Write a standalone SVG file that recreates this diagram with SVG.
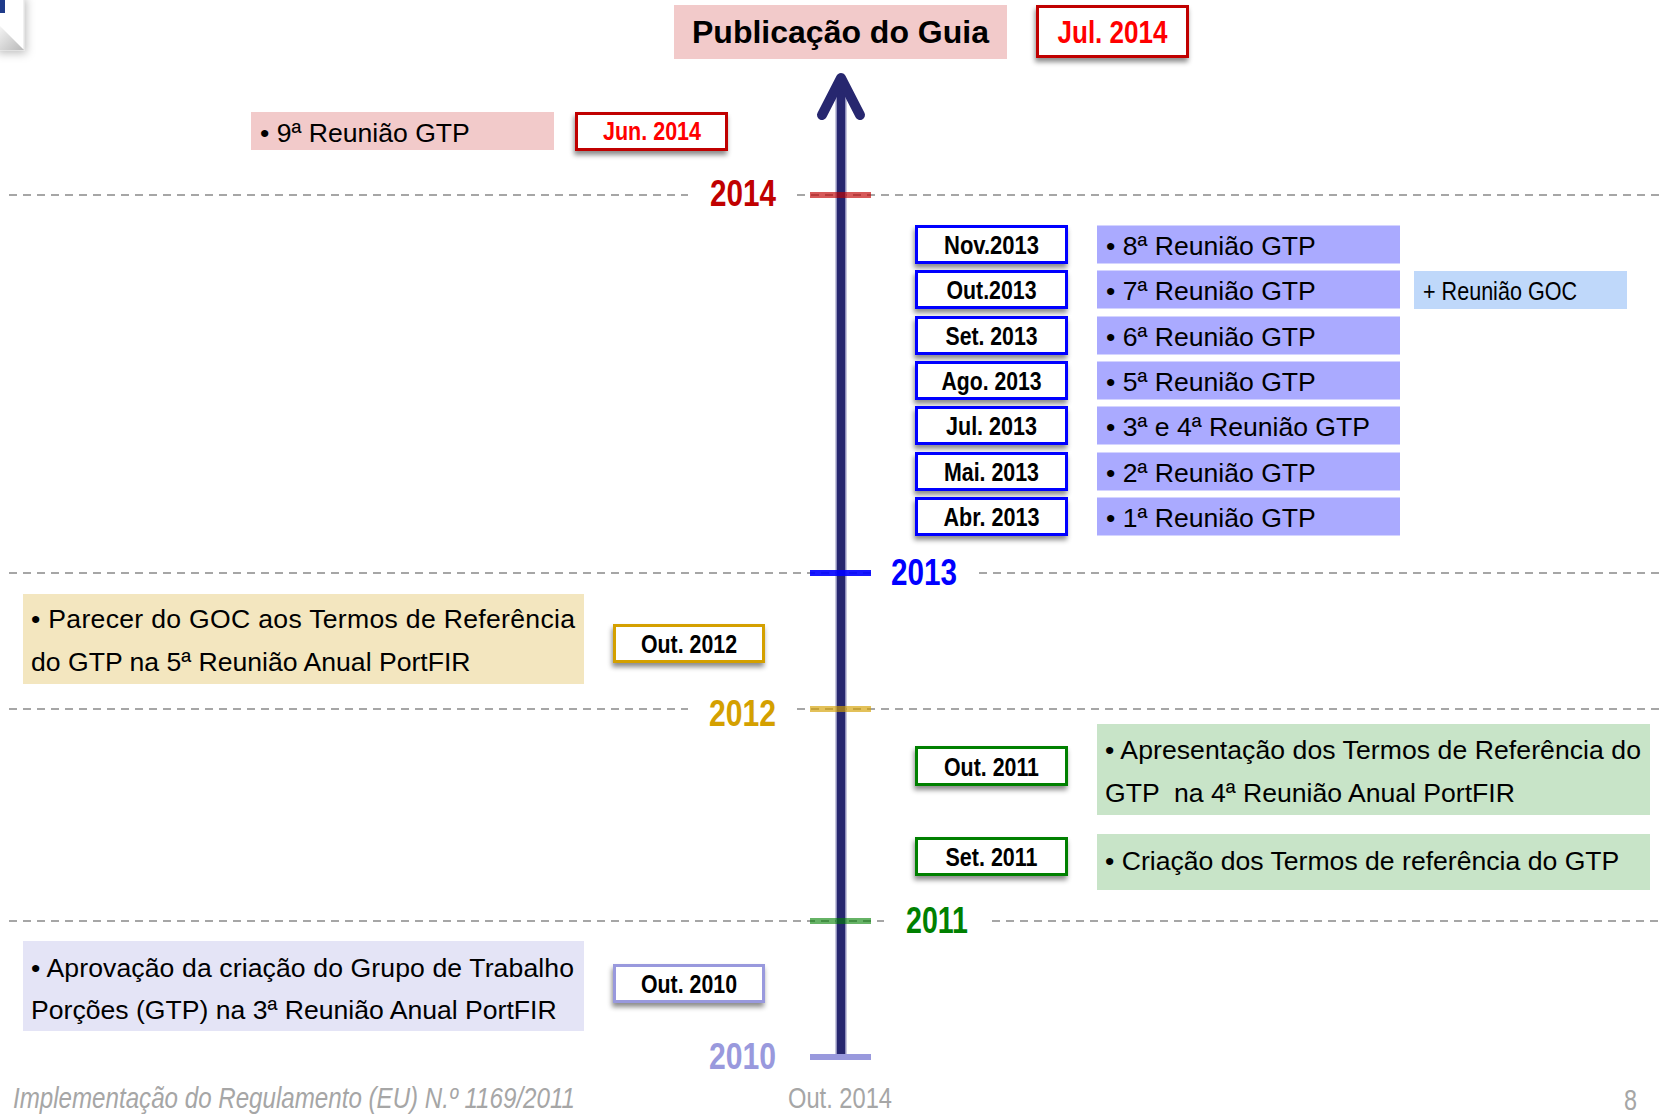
<svg xmlns="http://www.w3.org/2000/svg" width="1670" height="1114" viewBox="0 0 1670 1114">
<defs>
<filter id="sh" x="-20%" y="-30%" width="140%" height="180%">
<feDropShadow dx="-1" dy="4" stdDeviation="2.5" flood-color="#000" flood-opacity="0.45"/>
</filter>
<filter id="soft" x="-50%" y="-50%" width="200%" height="200%">
<feDropShadow dx="2" dy="3" stdDeviation="4" flood-color="#000" flood-opacity="0.25"/>
</filter>
<linearGradient id="curl" x1="0" y1="0" x2="1" y2="1">
<stop offset="0" stop-color="#f4f4f4"/>
<stop offset="1" stop-color="#b8b8b8"/>
</linearGradient>
</defs>
<style>
.b{font-family:"Liberation Sans",Arial,sans-serif;font-weight:bold}
.n{font-family:"Liberation Sans",Arial,sans-serif}
.mb{font-size:26px;text-anchor:middle;fill:#000}
.bt{font-size:26.6px;fill:#000}
.yr{font-size:37px}
.box{fill:#fff;stroke-width:3;filter:url(#sh)}
.dash{stroke:#a6a6a6;stroke-width:2;stroke-dasharray:8 6;fill:none}
.tick{stroke-width:6;fill:none}
.foot{fill:#a6a6a6;font-size:29px}
</style>

<g id="page-curl">
<rect x="-4" y="-4" width="28" height="54" fill="#fff" stroke="#e0e0e0" stroke-width="1" filter="url(#soft)"/>
<polygon points="0,26 24,50 0,50" fill="url(#curl)"/>
<rect x="0" y="0" width="5" height="13" fill="#1f3b8a"/>
</g>

<g id="gridlines">
<line class="dash" x1="9" y1="195" x2="688" y2="195"/>
<line class="dash" x1="797" y1="195" x2="1664" y2="195"/>
<line class="dash" x1="9" y1="573" x2="871" y2="573"/>
<line class="dash" x1="979" y1="573" x2="1664" y2="573"/>
<line class="dash" x1="9" y1="709" x2="688" y2="709"/>
<line class="dash" x1="797" y1="709" x2="1664" y2="709"/>
<line class="dash" x1="9" y1="921" x2="884" y2="921"/>
<line class="dash" x1="992" y1="921" x2="1664" y2="921"/>
</g>

<g id="connectors">
<line x1="841" y1="1057" x2="841" y2="82" stroke="#9090bc" stroke-width="11"/>
<line x1="841" y1="1057" x2="841" y2="82" stroke="#27276f" stroke-width="8"/>
<polyline points="822,115 841,78 860,115" fill="none" stroke="#27276f" stroke-width="10" stroke-linecap="round" stroke-linejoin="round"/>
<line class="tick" x1="810" y1="195" x2="871" y2="195" stroke="#c00000" stroke-opacity="0.65"/>
<line class="tick" x1="810" y1="573" x2="871" y2="573" stroke="#0000ff" stroke-opacity="0.9"/>
<line class="tick" x1="810" y1="709" x2="871" y2="709" stroke="#d4a000" stroke-opacity="0.65"/>
<line class="tick" x1="810" y1="921" x2="871" y2="921" stroke="#008000" stroke-opacity="0.6"/>
<line class="tick" x1="810" y1="1057" x2="871" y2="1057" stroke="#9999dd"/>
</g>

<g id="years">
<text class="b yr" x="710" y="206" textLength="66" lengthAdjust="spacingAndGlyphs" fill="#c00000">2014</text>
<text class="b yr" x="891" y="585" textLength="66" lengthAdjust="spacingAndGlyphs" fill="#0000ff">2013</text>
<text class="b yr" x="709" y="726" textLength="67" lengthAdjust="spacingAndGlyphs" fill="#d4a000">2012</text>
<text class="b yr" x="906" y="933" textLength="62" lengthAdjust="spacingAndGlyphs" fill="#008000">2011</text>
<text class="b yr" x="709" y="1069" textLength="67" lengthAdjust="spacingAndGlyphs" fill="#9999dd">2010</text>
</g>

<g id="publicacao">
<rect x="674" y="5" width="333" height="54" fill="#f2caca"/>
<text class="b" x="840.5" y="43" font-size="32" text-anchor="middle" fill="#000">Publicação do Guia</text>
</g>
<g id="jul2014">
<rect class="box" x="1037.5" y="6.5" width="150" height="50" stroke="#c00000"/>
<text class="b" x="1112.5" y="43" font-size="32" text-anchor="middle" textLength="110" lengthAdjust="spacingAndGlyphs" fill="#ff0000">Jul. 2014</text>
</g>

<g id="reuniao9">
<rect x="251" y="112" width="303" height="38" fill="#f2caca"/>
<text class="n bt" x="260" y="142">• 9ª Reunião GTP</text>
</g>
<g id="jun2014">
<rect class="box" x="576.5" y="113.5" width="150" height="36" stroke="#c00000"/>
<text class="b" x="652" y="140" font-size="26" text-anchor="middle" textLength="98" lengthAdjust="spacingAndGlyphs" fill="#ff0000">Jun. 2014</text>
</g>

<g id="nov2013">
<rect class="box" x="916.5" y="226.5" width="150" height="36" stroke="#0000ff"/>
<text class="b mb" x="991.5" y="254" textLength="95" lengthAdjust="spacingAndGlyphs">Nov.2013</text>
</g>
<g id="reuniao8">
<rect x="1097" y="225.5" width="303" height="38" fill="#aaaaff"/>
<text class="n bt" x="1106" y="255">• 8ª Reunião GTP</text>
</g>

<g id="out2013">
<rect class="box" x="916.5" y="271.5" width="150" height="36" stroke="#0000ff"/>
<text class="b mb" x="991.5" y="299" textLength="90" lengthAdjust="spacingAndGlyphs">Out.2013</text>
</g>
<g id="reuniao7">
<rect x="1097" y="270.5" width="303" height="38" fill="#aaaaff"/>
<text class="n bt" x="1106" y="300">• 7ª Reunião GTP</text>
</g>
<g id="reuniaoGOC">
<rect x="1414" y="271" width="213" height="38" fill="#bfd8fa"/>
<text class="n" x="1423" y="300" font-size="25" textLength="154" lengthAdjust="spacingAndGlyphs" fill="#000">+ Reunião GOC</text>
</g>

<g id="set2013">
<rect class="box" x="916.5" y="317.5" width="150" height="36" stroke="#0000ff"/>
<text class="b mb" x="991.5" y="345" textLength="92" lengthAdjust="spacingAndGlyphs">Set. 2013</text>
</g>
<g id="reuniao6">
<rect x="1097" y="316.5" width="303" height="38" fill="#aaaaff"/>
<text class="n bt" x="1106" y="346">• 6ª Reunião GTP</text>
</g>

<g id="ago2013">
<rect class="box" x="916.5" y="362.5" width="150" height="36" stroke="#0000ff"/>
<text class="b mb" x="991.5" y="390" textLength="100" lengthAdjust="spacingAndGlyphs">Ago. 2013</text>
</g>
<g id="reuniao5">
<rect x="1097" y="361.5" width="303" height="38" fill="#aaaaff"/>
<text class="n bt" x="1106" y="391">• 5ª Reunião GTP</text>
</g>

<g id="jul2013">
<rect class="box" x="916.5" y="407.5" width="150" height="36" stroke="#0000ff"/>
<text class="b mb" x="991.5" y="435" textLength="91" lengthAdjust="spacingAndGlyphs">Jul. 2013</text>
</g>
<g id="reuniao34">
<rect x="1097" y="406.5" width="303" height="38" fill="#aaaaff"/>
<text class="n bt" x="1106" y="436">• 3ª e 4ª Reunião GTP</text>
</g>

<g id="mai2013">
<rect class="box" x="916.5" y="453.5" width="150" height="36" stroke="#0000ff"/>
<text class="b mb" x="991.5" y="481" textLength="95" lengthAdjust="spacingAndGlyphs">Mai. 2013</text>
</g>
<g id="reuniao2">
<rect x="1097" y="452.5" width="303" height="38" fill="#aaaaff"/>
<text class="n bt" x="1106" y="482">• 2ª Reunião GTP</text>
</g>

<g id="abr2013">
<rect class="box" x="916.5" y="498.5" width="150" height="36" stroke="#0000ff"/>
<text class="b mb" x="991.5" y="526" textLength="96" lengthAdjust="spacingAndGlyphs">Abr. 2013</text>
</g>
<g id="reuniao1">
<rect x="1097" y="497.5" width="303" height="38" fill="#aaaaff"/>
<text class="n bt" x="1106" y="527">• 1ª Reunião GTP</text>
</g>

<g id="parecer">
<rect x="23" y="594" width="561" height="90" fill="#f3e6bf"/>
<text class="n bt" x="31" y="628" textLength="544" lengthAdjust="spacing">• Parecer do GOC aos Termos de Referência</text>
<text class="n bt" x="31" y="671">do GTP na 5ª Reunião Anual PortFIR</text>
</g>
<g id="out2012">
<rect class="box" x="614.5" y="625.5" width="149" height="36" stroke="#d4a000"/>
<text class="b mb" x="689" y="653" textLength="96" lengthAdjust="spacingAndGlyphs">Out. 2012</text>
</g>

<g id="out2011">
<rect class="box" x="916.5" y="747.5" width="150" height="37" stroke="#008000"/>
<text class="b mb" x="991.5" y="776" textLength="95" lengthAdjust="spacingAndGlyphs">Out. 2011</text>
</g>
<g id="apresentacao">
<rect x="1097" y="724" width="553" height="91" fill="#c8e4c8"/>
<text class="n bt" x="1105" y="759" textLength="536" lengthAdjust="spacing">• Apresentação dos Termos de Referência do</text>
<text class="n bt" x="1105" y="802" style="white-space:pre">GTP  na 4ª Reunião Anual PortFIR</text>
</g>

<g id="set2011">
<rect class="box" x="916.5" y="838.5" width="150" height="36" stroke="#008000"/>
<text class="b mb" x="991.5" y="866" textLength="92" lengthAdjust="spacingAndGlyphs">Set. 2011</text>
</g>
<g id="criacao">
<rect x="1097" y="834" width="553" height="56" fill="#c8e4c8"/>
<text class="n bt" x="1105" y="870">• Criação dos Termos de referência do GTP</text>
</g>

<g id="aprovacao">
<rect x="23" y="941" width="561" height="90" fill="#e4e4f6"/>
<text class="n bt" x="31" y="977" textLength="543" lengthAdjust="spacing">• Aprovação da criação do Grupo de Trabalho</text>
<text class="n bt" x="31" y="1019">Porções (GTP) na 3ª Reunião Anual PortFIR</text>
</g>
<g id="out2010">
<rect class="box" x="614.5" y="965.5" width="149" height="36" stroke="#9999dd"/>
<text class="b mb" x="689" y="993" textLength="96" lengthAdjust="spacingAndGlyphs">Out. 2010</text>
</g>

<g id="footer">
<text class="n foot" x="13" y="1108" font-style="italic" textLength="562" lengthAdjust="spacingAndGlyphs">Implementação do Regulamento (EU) N.º 1169/2011</text>
<text class="n foot" x="840" y="1108" text-anchor="middle" textLength="104" lengthAdjust="spacingAndGlyphs">Out. 2014</text>
<text class="n foot" x="1624" y="1110" textLength="13" lengthAdjust="spacingAndGlyphs">8</text>
</g>
</svg>
